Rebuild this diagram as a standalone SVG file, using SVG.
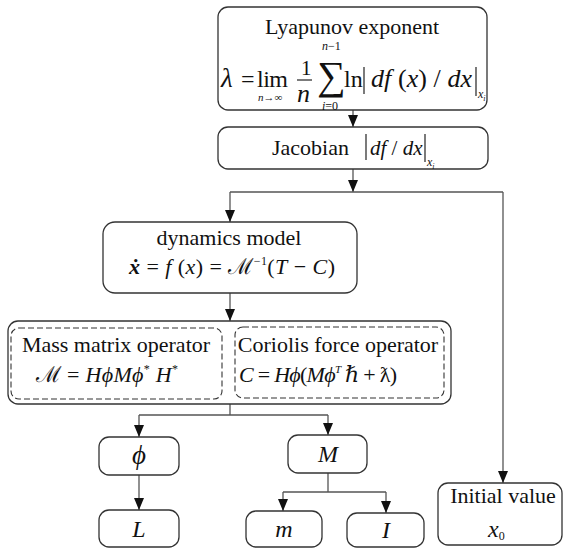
<svg xmlns="http://www.w3.org/2000/svg" width="565" height="549" viewBox="0 0 565 549" font-family="'Liberation Serif', 'Times New Roman', Tinos, 'DejaVu Serif', serif">
  <defs>
    <marker id="arrow" viewBox="0 0 12 10" refX="12" refY="5" markerWidth="12" markerHeight="10" markerUnits="userSpaceOnUse" orient="auto">
      <path d="M0,0 L12,5 L0,10 z" fill="#111"/>
    </marker>
  </defs>
  <style>
    .box { fill: #fff; stroke: #333; stroke-width: 1.3; }
    .dash { fill: none; stroke: #333; stroke-width: 1.1; stroke-dasharray: 6 3; }
    .link { fill: none; stroke: #555; stroke-width: 1.3; }
    .bar { fill: none; stroke: #222; stroke-width: 1.2; }
    text { font-family: 'Liberation Serif', 'Times New Roman', Tinos, 'DejaVu Serif', serif; fill: #111; }
    .lbl { font-size: 22px; }
    .mid { text-anchor: middle; }
    .it { font-style: italic; }
    .m { font-size: 24px; }
    .eq { font-size: 22px; }
    .sub { font-size: 12px; }
    .tiny { font-size: 8px; }
  </style>

  <!-- connectors -->
  <g id="connectors">
    <path class="link" d="M353,110 V127" marker-end="url(#arrow)"/>
    <path class="link" d="M353,169 V192" marker-end="url(#arrow)"/>
    <path class="link" d="M230,192 H503"/>
    <path class="link" d="M230,192 V222" marker-end="url(#arrow)"/>
    <path class="link" d="M503,192 V483" marker-end="url(#arrow)"/>
    <path class="link" d="M230,293 V321" marker-end="url(#arrow)"/>
    <path class="link" d="M230,404 V415 M139,415 H328"/>
    <path class="link" d="M139,415 V437" marker-end="url(#arrow)"/>
    <path class="link" d="M328,415 V435" marker-end="url(#arrow)"/>
    <path class="link" d="M139,475 V510" marker-end="url(#arrow)"/>
    <path class="link" d="M328,473 V492 M283,492 H386"/>
    <path class="link" d="M283,492 V511" marker-end="url(#arrow)"/>
    <path class="link" d="M386,492 V513" marker-end="url(#arrow)"/>
  </g>

  <!-- Lyapunov exponent -->
  <g id="lyapunov">
    <rect class="box" x="218" y="7" width="269" height="103" rx="10"/>
    <text class="lbl mid" x="352" y="34" font-size="23">Lyapunov exponent</text>
    <text class="it" x="221" y="87" font-size="27">λ</text>
    <text class="m" x="241" y="87">=</text>
    <text class="m" x="257" y="87" textLength="31">lim</text>
    <text x="258" y="101" font-size="11"><tspan class="it">n</tspan>→∞</text>
    <text x="301" y="75" font-size="21">1</text>
    <line class="bar" x1="297" y1="80" x2="312" y2="80"/>
    <text class="it" x="297" y="102" font-size="26">n</text>
    <text x="317" y="89" font-size="40">∑</text>
    <text class="sub" x="322" y="50"><tspan class="it">n</tspan>−1</text>
    <text class="sub" x="322" y="110"><tspan class="it">i</tspan>=0</text>
    <text class="m" x="344" y="87">ln</text>
    <line class="bar" x1="364" y1="67" x2="364" y2="94"/>
    <text x="371" y="87" font-size="26" textLength="101" lengthAdjust="spacing"><tspan class="it">df</tspan> (<tspan class="it">x</tspan>) / <tspan class="it">dx</tspan></text>
    <line class="bar" x1="476" y1="67" x2="476" y2="96"/>
    <text class="sub it" x="478" y="98">x<tspan class="tiny" dy="3">i</tspan></text>
  </g>

  <!-- Jacobian -->
  <g id="jacobian">
    <rect class="box" x="218" y="127" width="270" height="42" rx="10"/>
    <text class="lbl" x="272" y="155">Jacobian</text>
    <line class="bar" x1="366" y1="134" x2="366" y2="160"/>
    <text class="it" x="370" y="155" font-size="21">df <tspan font-style="normal">/</tspan> dx</text>
    <line class="bar" x1="425" y1="134" x2="425" y2="162"/>
    <text class="sub it" x="427" y="166">x<tspan class="tiny" dy="3">i</tspan></text>
  </g>

  <!-- dynamics model -->
  <g id="dynamics">
    <rect class="box" x="103" y="222" width="254" height="71" rx="12"/>
    <text class="lbl mid" x="229" y="245">dynamics model</text>
    <text class="eq" x="129" y="274" textLength="206" lengthAdjust="spacing"><tspan font-weight="bold" font-style="italic">ẋ</tspan> = <tspan class="it">f</tspan> (<tspan class="it">x</tspan>) = ℳ<tspan font-size="12" dy="-9">−1</tspan><tspan dy="9">(</tspan><tspan class="it">T</tspan> − <tspan class="it">C</tspan>)</text>
  </g>

  <!-- operators -->
  <g id="operators">
    <rect class="box" x="8" y="321" width="443" height="83" rx="10"/>
    <g id="mass-matrix">
      <rect class="dash" x="11" y="328" width="211" height="71" rx="8"/>
      <text class="lbl mid" x="116" y="352">Mass matrix operator</text>
      <text class="eq" x="36" y="382" textLength="142" lengthAdjust="spacing">ℳ = <tspan class="it">HϕMϕ</tspan><tspan font-size="12" dy="-9">*</tspan><tspan class="it" dy="9"> H</tspan><tspan font-size="12" dy="-9">*</tspan></text>
    </g>
    <g id="coriolis">
      <rect class="dash" x="235" y="327" width="209" height="71" rx="8"/>
      <text class="lbl mid" x="338" y="352">Coriolis force operator</text>
      <text class="eq" x="239" y="382" textLength="158" lengthAdjust="spacing"><tspan class="it">C</tspan> = <tspan class="it">Hϕ</tspan>(<tspan class="it">Mϕ</tspan><tspan class="it" font-size="11" dy="-9">T</tspan><tspan class="it" dy="9"> ℏ</tspan> + ƛ)</text>
    </g>
  </g>

  <!-- parameters -->
  <g id="phi">
    <rect class="box" x="99" y="437" width="80" height="38" rx="10"/>
    <text class="it mid" x="139" y="464" font-size="27">ϕ</text>
  </g>
  <g id="mass">
    <rect class="box" x="288" y="435" width="79" height="38" rx="10"/>
    <text class="m it mid" x="328" y="462">M</text>
  </g>
  <g id="length">
    <rect class="box" x="99" y="510" width="80" height="37" rx="10"/>
    <text class="m it mid" x="139" y="537">L</text>
  </g>
  <g id="m-node">
    <rect class="box" x="246" y="511" width="76" height="36" rx="10"/>
    <text class="m it mid" x="284" y="537">m</text>
  </g>
  <g id="inertia">
    <rect class="box" x="347" y="513" width="77" height="34" rx="10"/>
    <text class="m it mid" x="386" y="538">I</text>
  </g>
  <g id="initial">
    <rect class="box" x="438" y="483" width="124" height="62" rx="10"/>
    <text class="lbl mid" x="503" y="503">Initial value</text>
    <text class="m it" x="488" y="537">x<tspan class="sub" font-style="normal" dy="3">0</tspan></text>
  </g>
</svg>
